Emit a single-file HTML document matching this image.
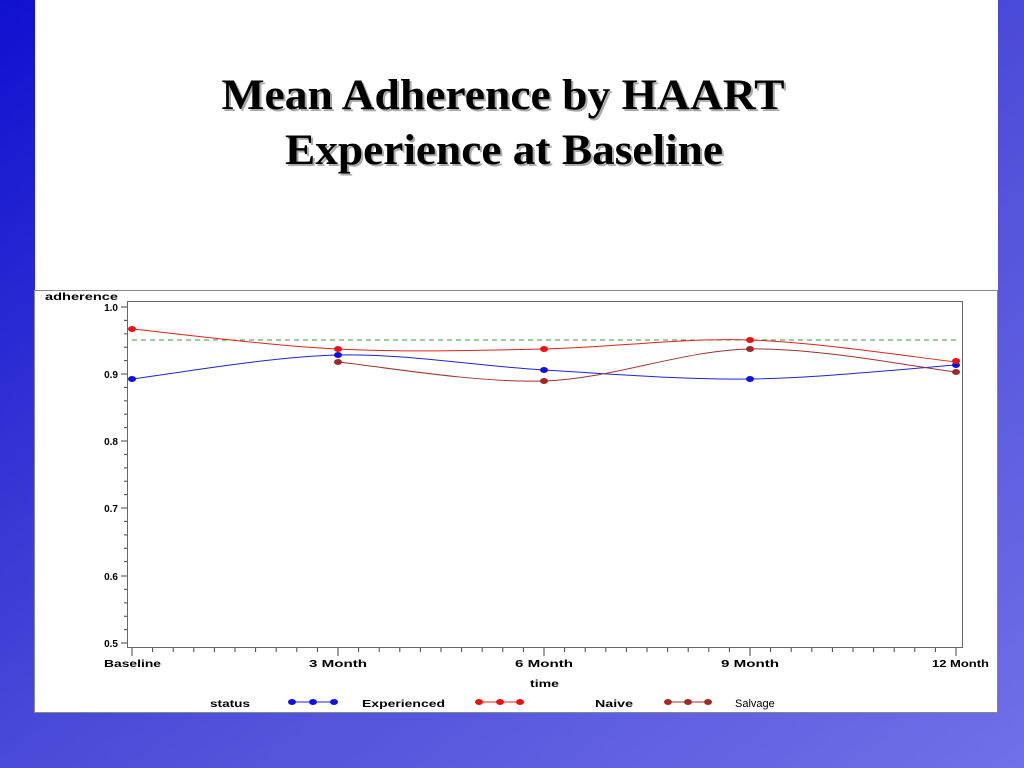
<!DOCTYPE html>
<html><head><meta charset="utf-8"><style>
html,body{margin:0;padding:0;width:1024px;height:768px;overflow:hidden}
</style></head><body>
<svg width="1024" height="768" xmlns="http://www.w3.org/2000/svg" font-family="Liberation Sans, sans-serif">
<defs>
<linearGradient id="bg" x1="0" y1="0" x2="1" y2="1">
<stop offset="0" stop-color="#1010d0"/><stop offset="0.5" stop-color="#4a4ad8"/><stop offset="1" stop-color="#7070e8"/>
</linearGradient>
</defs>
<rect width="1024" height="768" fill="url(#bg)"/>
<rect x="35" y="0" width="963" height="290" fill="#fff"/>
<rect x="34.5" y="290.5" width="963" height="422" fill="#fff" stroke="#888" stroke-width="1"/>
<g font-family="Liberation Serif, serif" font-weight="bold" font-size="43" text-anchor="middle" lengthAdjust="spacingAndGlyphs">
<text x="505" y="111" fill="#aaa" textLength="563" lengthAdjust="spacingAndGlyphs">Mean Adherence by HAART</text>
<text x="506" y="166" fill="#aaa" textLength="438" lengthAdjust="spacingAndGlyphs">Experience at Baseline</text>
<text x="503" y="109" fill="#000" textLength="563" lengthAdjust="spacingAndGlyphs">Mean Adherence by HAART</text>
<text x="504" y="164" fill="#000" textLength="438" lengthAdjust="spacingAndGlyphs">Experience at Baseline</text>
</g>
<rect x="127.5" y="301.5" width="835" height="346" fill="none" stroke="#666" stroke-width="1"/>
<g font-size="10" font-weight="bold" fill="#000">
<text x="45" y="300" textLength="73" lengthAdjust="spacingAndGlyphs">adherence</text>
<g text-anchor="end">
<text x="118" y="311">1.0</text><text x="118" y="378">0.9</text><text x="118" y="445">0.8</text>
<text x="118" y="512">0.7</text><text x="118" y="580">0.6</text><text x="118" y="647">0.5</text>
</g>
<text x="104" y="667" textLength="57" lengthAdjust="spacingAndGlyphs">Baseline</text>
<text x="309" y="667" textLength="58" lengthAdjust="spacingAndGlyphs">3  Month</text>
<text x="515" y="667" textLength="58" lengthAdjust="spacingAndGlyphs">6  Month</text>
<text x="721" y="667" textLength="58" lengthAdjust="spacingAndGlyphs">9  Month</text>
<text x="932" y="667" textLength="57" lengthAdjust="spacingAndGlyphs">12  Month</text>
<text x="530" y="687" textLength="29" lengthAdjust="spacingAndGlyphs">time</text>
<text x="210" y="707" textLength="40" lengthAdjust="spacingAndGlyphs">status</text>
<text x="362" y="707" textLength="83" lengthAdjust="spacingAndGlyphs">Experienced</text>
<text x="595" y="707" textLength="38" lengthAdjust="spacingAndGlyphs">Naive</text>
</g>
<text x="735" y="707" font-size="11" fill="#000">Salvage</text>
<g stroke="#444" stroke-width="1">
<path d="M121 307H127M121 374H127M121 441H127M121 508H127M121 576H127M121 643H127"/>
<path d="M124 320.4H127M124 333.9H127M124 347.3H127M124 360.6H127M124 387.4H127M124 400.9H127M124 414.3H127M124 427.6H127M124 454.4H127M124 467.9H127M124 481.3H127M124 494.6H127M124 521.4H127M124 534.9H127M124 548.3H127M124 561.6H127M124 589.4H127M124 602.9H127M124 616.3H127M124 629.6H127"/>
<path d="M132 648V656M338 648V656M544 648V656M750 648V656M956 648V656"/>
<path d="M152.6 648V652M173.2 648V652M193.8 648V652M214.4 648V652M235 648V652M255.6 648V652M276.2 648V652M296.8 648V652M317.4 648V652M358.6 648V652M379.2 648V652M399.8 648V652M420.4 648V652M441 648V652M461.6 648V652M482.2 648V652M502.8 648V652M523.4 648V652M564.6 648V652M585.2 648V652M605.8 648V652M626.4 648V652M647 648V652M667.6 648V652M688.2 648V652M708.8 648V652M729.4 648V652M770.6 648V652M791.2 648V652M811.8 648V652M832.4 648V652M853 648V652M873.6 648V652M894.2 648V652M914.8 648V652M935.4 648V652"/>
</g>
<line x1="132" y1="340" x2="956" y2="340" stroke="#3a9a3a" stroke-width="1" stroke-dasharray="5,4"/>
<path d="M132 379C166.3 375 269.3 356.5 338 355C406.7 353.5 475.3 366 544 370C612.7 374 681.3 379.8 750 379C818.7 378.2 921.7 367.3 956 365" fill="none" stroke="#2020e0" stroke-width="1"/>
<path d="M132 329C166.3 332.3 269.3 345.7 338 349C406.7 352.3 475.3 350.5 544 349C612.7 347.5 681.3 337.8 750 340C818.7 342.2 921.7 358.3 956 362" fill="none" stroke="#e02020" stroke-width="1"/>
<path d="M338 362C372.3 365.2 475.3 383.2 544 381C612.7 378.8 681.3 350.5 750 349C818.7 347.5 921.7 368.2 956 372" fill="none" stroke="#a03030" stroke-width="1"/>
<g fill="#1010e0"><ellipse cx="132" cy="379" rx="4" ry="3"/><ellipse cx="338" cy="355" rx="4" ry="3"/><ellipse cx="544" cy="370" rx="4" ry="3"/><ellipse cx="750" cy="379" rx="4" ry="3"/><ellipse cx="956" cy="365" rx="4" ry="3"/></g>
<g fill="#ee1010"><ellipse cx="132" cy="329" rx="4" ry="3"/><ellipse cx="338" cy="349" rx="4" ry="3"/><ellipse cx="544" cy="349" rx="4" ry="3"/><ellipse cx="750" cy="340" rx="4" ry="3"/><ellipse cx="956" cy="361" rx="4" ry="3"/></g>
<g fill="#a02828"><ellipse cx="338" cy="362" rx="4" ry="3"/><ellipse cx="544" cy="381" rx="4" ry="3"/><ellipse cx="750" cy="349" rx="4" ry="3"/><ellipse cx="956" cy="372" rx="4" ry="3"/></g>
<line x1="292" y1="702" x2="334" y2="702" stroke="#2020e0"/>
<g fill="#1010e0"><ellipse cx="292" cy="702" rx="4" ry="3"/><ellipse cx="313" cy="702" rx="4" ry="3"/><ellipse cx="334" cy="702" rx="4" ry="3"/></g>
<line x1="479" y1="702" x2="520" y2="702" stroke="#e02020"/>
<g fill="#ee1010"><ellipse cx="479" cy="702" rx="4" ry="3"/><ellipse cx="500" cy="702" rx="4" ry="3"/><ellipse cx="520" cy="702" rx="4" ry="3"/></g>
<line x1="668" y1="702" x2="708" y2="702" stroke="#a03030"/>
<g fill="#a02828"><ellipse cx="668" cy="702" rx="4" ry="3"/><ellipse cx="688" cy="702" rx="4" ry="3"/><ellipse cx="708" cy="702" rx="4" ry="3"/></g>
</svg>
</body></html>
